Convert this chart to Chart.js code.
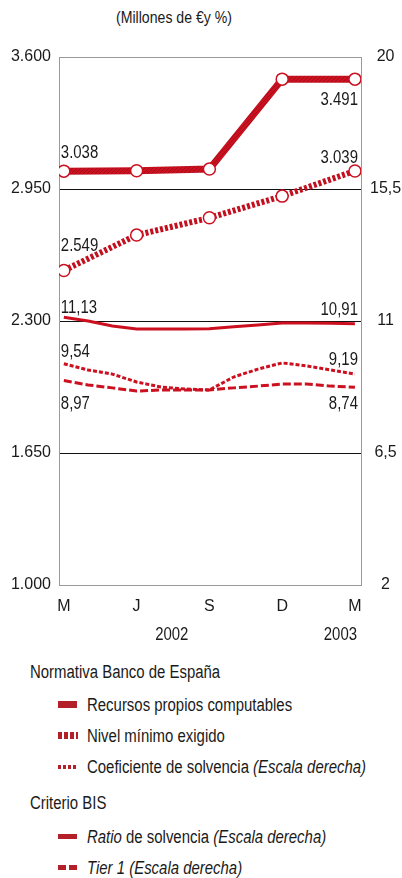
<!DOCTYPE html>
<html>
<head>
<meta charset="utf-8">
<script src="https://cdn.jsdelivr.net/npm/chart.js@4/dist/chart.umd.min.js"></script>
<style>
  body { margin: 0; background: #fff; width: 402px; height: 878px; position: relative; overflow: hidden;
         font-family: "Liberation Sans", Arial, sans-serif; color: #1a1a1a; }
  .narrow { display: inline-block; transform: scaleX(0.83); transform-origin: 0 0; white-space: nowrap; }
  #subtitle { position: absolute; left: 116px; top: 8px; font-size: 17px; }
  #chartBox { position: absolute; left: 0; top: 0; width: 402px; height: 650px; }
  .leg { position: absolute; font-size: 18px; line-height: 20px; white-space: nowrap; }
  .head { left: 30px; }
  .item { left: 87px; }
  .sw { position: absolute; left: 58px; width: 19px; }
  .sw-recursos { height: 7px; background: #b3202a; }
  .sw-nivel { height: 7px; background: repeating-linear-gradient(90deg, #b3202a 0 4px, transparent 4px 6px); width: 20px; }
  .sw-coef { height: 4px; background: repeating-linear-gradient(90deg, #b3202a 0 3px, transparent 3px 5px); }
  .sw-ratio { height: 5px; background: #b3202a; }
  .sw-tier { height: 5px; background: repeating-linear-gradient(90deg, #b3202a 0 8px, transparent 8px 11px); }
</style>
</head>
<body>
<div id="subtitle"><span class="narrow">(Millones de €y %)</span></div>
<div id="chartBox"><canvas id="solvencyChart"></canvas></div>

<div class="leg head" style="top:662px"><span class="narrow">Normativa Banco de España</span></div>
<div class="sw sw-recursos" style="top:701px"></div>
<div class="leg item" style="top:695px"><span class="narrow">Recursos propios computables</span></div>
<div class="sw sw-nivel" style="top:732px"></div>
<div class="leg item" style="top:726px"><span class="narrow">Nivel mínimo exigido</span></div>
<div class="sw sw-coef" style="top:765px"></div>
<div class="leg item" style="top:757px"><span class="narrow">Coeficiente de solvencia <i>(Escala derecha)</i></span></div>
<div class="leg head" style="top:793px"><span class="narrow">Criterio BIS</span></div>
<div class="sw sw-ratio" style="top:834px"></div>
<div class="leg item" style="top:827px"><span class="narrow"><i>Ratio</i> de solvencia <i>(Escala derecha)</i></span></div>
<div class="sw sw-tier" style="top:865px"></div>
<div class="leg item" style="top:858px"><span class="narrow"><i>Tier 1 (Escala derecha)</i></span></div>

<script>
// ticks of the x axis (quarters) and years below
const quarterLabels = ['M', 'J', 'S', 'D', 'M'];
const years = ['2002', '2003'];

// left scale, millones de euros (quarterly, Mar 2002 - Mar 2003)
const recursosPropios = [3038, 3040, 3048, 3491, 3491];
const nivelMinimo = [2549, 2723, 2808, 2915, 3039];

// right scale, % (monthly, Mar 2002 - Mar 2003)
const coefSolvencia = [9.54, 9.33, 9.19, 8.92, 8.75, 8.68, 8.65, 9.09, 9.36, 9.57, 9.47, 9.33, 9.19];
const ratioBis = [11.13, 11.0, 10.83, 10.73, 10.73, 10.73, 10.74, 10.80, 10.86, 10.93, 10.93, 10.92, 10.91];
const tier1 = [8.97, 8.82, 8.72, 8.61, 8.65, 8.65, 8.65, 8.72, 8.78, 8.85, 8.85, 8.78, 8.74];

const leftTicks = [1000, 1650, 2300, 2950, 3600];
const rightTicks = [2, 6.5, 11, 15.5, 20];

const RED = '#cc1020';
const FONT = '"Liberation Sans", Arial, sans-serif';

// formato espanol
function fmtMiles(v) {
    return String(Math.round(v)).replace(/\B(?=(\d{3})+(?!\d))/g, '.');
}
function fmtDec(v) {
    return String(v).replace('.', ',');
}

const quarterly = arr => arr.map((v, i) => ({ x: i * 3, y: v }));
const monthly = arr => arr.map((v, i) => ({ x: i, y: v }));

// trama de las lineas gruesas
function hatch() {
    const c = document.createElement('canvas');
    c.width = 4; c.height = 4;
    const g = c.getContext('2d');
    g.fillStyle = RED;
    g.fillRect(0, 0, 4, 4);
    g.fillStyle = '#a3101c';
    g.fillRect(0, 0, 1, 1);
    g.fillRect(2, 2, 1, 1);
    g.fillRect(1, 3, 1, 1);
    g.fillRect(3, 1, 1, 1);
    return g.createPattern(c, 'repeat');
}

// texto estrecho (imitando Arial Narrow)
function narrowText(ctx, text, x, y, align) {
    ctx.save();
    ctx.translate(x, y);
    ctx.scale(0.83, 1);
    ctx.textAlign = align;
    ctx.fillText(text, 0, 0);
    ctx.restore();
}

// etiquetas de valor al principio y al final de cada serie
const valueLabels = {
    id: 'valueLabels',
    afterDatasetsDraw(chart, args, opts) {
        const ctx = chart.ctx;
        ctx.save();
        ctx.font = '18px ' + FONT;
        ctx.fillStyle = '#1a1a1a';
        ctx.textBaseline = 'middle';
        chart.data.datasets.forEach((ds, i) => {
            const pts = chart.getDatasetMeta(i).data;
            const first = pts[0];
            const last = pts[pts.length - 1];
            narrowText(ctx, ds.fmt(ds.data[0].y), first.x - 3, first.y + ds.labelDy[0], 'left');
            narrowText(ctx, ds.fmt(ds.data[ds.data.length - 1].y), last.x + 3, last.y + ds.labelDy[1], 'right');
        });
        const xs = chart.scales.x;
        years.forEach((y, i) => {
            narrowText(ctx, y, xs.getPixelForValue(opts.yearAt[i]), opts.yearY, 'center');
        });
        ctx.restore();
    }
};

const ctx = document.getElementById('solvencyChart').getContext('2d');
const thick = hatch();

new Chart(ctx, {
    type: 'line',
    data: {
        datasets: [
            {
                label: 'Tier 1',
                data: monthly(tier1),
                yAxisID: 'y2',
                borderColor: RED,
                borderWidth: 3,
                borderDash: [8, 3],
                pointRadius: 0,
                fmt: fmtDec,
                labelDy: [23, 17]
            },
            {
                label: 'Coeficiente de solvencia',
                data: monthly(coefSolvencia),
                yAxisID: 'y2',
                borderColor: RED,
                borderWidth: 3,
                borderDash: [4, 2],
                pointRadius: 0,
                fmt: fmtDec,
                labelDy: [-12, -14]
            },
            {
                label: 'Ratio de solvencia',
                data: monthly(ratioBis),
                yAxisID: 'y2',
                borderColor: RED,
                borderWidth: 3,
                pointRadius: 0,
                fmt: fmtDec,
                labelDy: [-9, -14]
            },
            {
                label: 'Nivel mínimo exigido',
                data: quarterly(nivelMinimo),
                yAxisID: 'y',
                borderColor: thick,
                borderWidth: 6,
                borderDash: [3, 2],
                pointRadius: 6,
                pointBackgroundColor: '#fff',
                pointBorderColor: RED,
                pointBorderWidth: 1.5,
                fmt: fmtMiles,
                labelDy: [-24, -13]
            },
            {
                label: 'Recursos propios computables',
                data: quarterly(recursosPropios),
                yAxisID: 'y',
                borderColor: thick,
                borderWidth: 7,
                pointRadius: 6,
                pointBackgroundColor: '#fff',
                pointBorderColor: RED,
                pointBorderWidth: 1.5,
                fmt: fmtMiles,
                labelDy: [-18, 21]
            }
        ]
    },
    options: {
        responsive: true,
        maintainAspectRatio: false,
        animation: false,
        events: [],
        layout: { padding: { top: 57, left: 0, right: 0, bottom: 0 } },
        plugins: {
            legend: { display: false },
            tooltip: { enabled: false },
            valueLabels: { yearAt: [4.45, 11.4], yearY: 635 }
        },
        scales: {
            x: {
                type: 'linear',
                min: -0.2,
                max: 12.25,
                afterBuildTicks: scale => {
                    scale.ticks = quarterLabels.map((l, i) => ({ value: i * 3 }));
                },
                afterFit: scale => { scale.height = 65; },
                ticks: {
                    color: '#1a1a1a',
                    font: { family: FONT, size: 16 },
                    padding: 12,
                    maxRotation: 0,
                    autoSkip: false,
                    callback: (v, i) => quarterLabels[i]
                },
                grid: { drawOnChartArea: false, drawTicks: false },
                border: { color: '#9a9a9a', width: 1 }
            },
            y: {
                position: 'left',
                min: 1000,
                max: 3600,
                afterBuildTicks: scale => {
                    scale.ticks = leftTicks.map(v => ({ value: v }));
                },
                afterFit: scale => { scale.width = 59; },
                ticks: {
                    color: '#1a1a1a',
                    font: { family: FONT, size: 16 },
                    padding: 8,
                    callback: v => fmtMiles(v)
                },
                grid: {
                    drawTicks: false,
                    color: c => (c.tick && (c.tick.value === 3600 || c.tick.value === 1000)) ? '#9a9a9a' : '#111',
                    lineWidth: 1
                },
                border: { color: '#9a9a9a', width: 1 }
            },
            y2: {
                position: 'right',
                min: 2,
                max: 20,
                afterBuildTicks: scale => {
                    scale.ticks = rightTicks.map(v => ({ value: v }));
                },
                afterFit: scale => { scale.width = 41; },
                ticks: {
                    color: '#1a1a1a',
                    font: { family: FONT, size: 16 },
                    padding: 9,
                    crossAlign: 'center',
                    callback: v => fmtDec(v)
                },
                grid: { drawOnChartArea: false, drawTicks: false },
                border: { color: '#9a9a9a', width: 1 }
            }
        }
    },
    plugins: [valueLabels]
});
</script>
</body>
</html>
